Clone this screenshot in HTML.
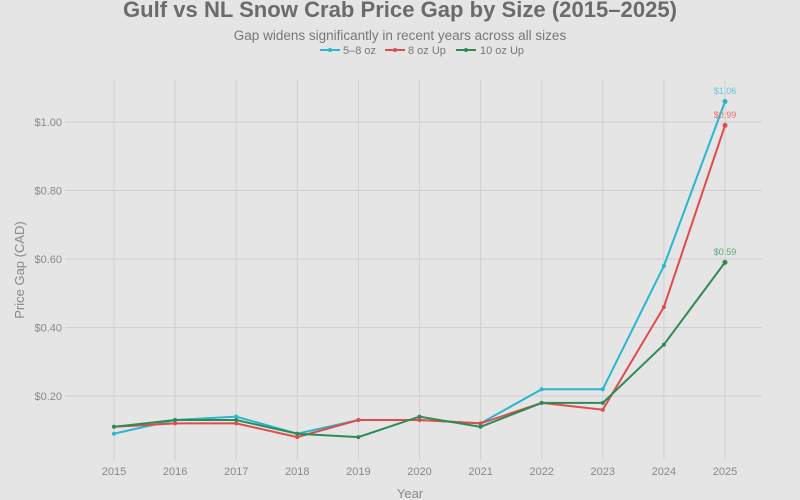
<!DOCTYPE html>
<html><head><meta charset="utf-8"><style>
body{margin:0;background:#e5e5e5;}
svg{display:block;font-family:"Liberation Sans",sans-serif;}
</style></head><body>
<svg width="800" height="500" viewBox="0 0 800 500">
<rect width="800" height="500" fill="#e5e5e5"/>
<text x="400" y="17" text-anchor="middle" font-size="22" font-weight="bold" fill="#6b6b6b" textLength="554" lengthAdjust="spacingAndGlyphs">Gulf vs NL Snow Crab Price Gap by Size (2015–2025)</text>
<text x="400" y="40" text-anchor="middle" font-size="13.5" fill="#777">Gap widens significantly in recent years across all sizes</text>
<g font-size="11" fill="#777">
<line x1="320" y1="50" x2="340" y2="50" stroke="#29b6d0" stroke-width="2"/><circle cx="330" cy="50" r="2" fill="#29b6d0"/><text x="343" y="54">5–8 oz</text>
<line x1="385" y1="50" x2="405" y2="50" stroke="#e04b4b" stroke-width="2"/><circle cx="395" cy="50" r="2" fill="#e04b4b"/><text x="408" y="54">8 oz Up</text>
<line x1="456" y1="50" x2="476" y2="50" stroke="#2e8b57" stroke-width="2"/><circle cx="466" cy="50" r="2" fill="#2e8b57"/><text x="480" y="54">10 oz Up</text>
</g>
<g stroke="#d0d0d0" stroke-width="1">
<line x1="65" x2="762" y1="396" y2="396"/><line x1="65" x2="762" y1="327.5" y2="327.5"/><line x1="65" x2="762" y1="259" y2="259"/><line x1="65" x2="762" y1="190.5" y2="190.5"/><line x1="65" x2="762" y1="122" y2="122"/>
<line x1="114" x2="114" y1="80" y2="460"/><line x1="175.1" x2="175.1" y1="80" y2="460"/><line x1="236.2" x2="236.2" y1="80" y2="460"/><line x1="297.3" x2="297.3" y1="80" y2="460"/><line x1="358.4" x2="358.4" y1="80" y2="460"/><line x1="419.5" x2="419.5" y1="80" y2="460"/><line x1="480.6" x2="480.6" y1="80" y2="460"/><line x1="541.7" x2="541.7" y1="80" y2="460"/><line x1="602.8" x2="602.8" y1="80" y2="460"/><line x1="663.9" x2="663.9" y1="80" y2="460"/><line x1="725" x2="725" y1="80" y2="460"/>
</g>
<g font-size="11" fill="#888" text-anchor="end">
<text x="62" y="400">$0.20</text><text x="62" y="331.5">$0.40</text><text x="62" y="263">$0.60</text><text x="62" y="194.5">$0.80</text><text x="62" y="126">$1.00</text>
</g>
<g font-size="11" fill="#888" text-anchor="middle">
<text x="114" y="475">2015</text><text x="175.1" y="475">2016</text><text x="236.2" y="475">2017</text><text x="297.3" y="475">2018</text><text x="358.4" y="475">2019</text><text x="419.5" y="475">2020</text><text x="480.6" y="475">2021</text><text x="541.7" y="475">2022</text><text x="602.8" y="475">2023</text><text x="663.9" y="475">2024</text><text x="725" y="475">2025</text>
<text x="410" y="498" font-size="13">Year</text>
<text transform="translate(24,270) rotate(-90)" font-size="13">Price Gap (CAD)</text>
</g>
<g fill="none" stroke-width="2">
<polyline stroke="#29b6d0" points="114,433.7 175.1,420 236.2,416.6 297.3,433.7 358.4,420 419.5,420 480.6,423.4 541.7,389.2 602.8,389.2 663.9,265.9 725,101.5"/>
<polyline stroke="#e04b4b" points="114,426.8 175.1,423.4 236.2,423.4 297.3,437.1 358.4,420 419.5,420 480.6,423.4 541.7,402.9 602.8,409.7 663.9,307 725,125.4"/>
<polyline stroke="#2e8b57" points="114,426.8 175.1,420 236.2,420 297.3,433.7 358.4,437.1 419.5,416.6 480.6,426.8 541.7,402.9 602.8,402.9 663.9,344.6 725,262.4"/>
</g>
<g fill="#29b6d0"><circle cx="114" cy="433.7" r="2"/><circle cx="175.1" cy="420" r="2"/><circle cx="236.2" cy="416.6" r="2"/><circle cx="297.3" cy="433.7" r="2"/><circle cx="358.4" cy="420" r="2"/><circle cx="419.5" cy="420" r="2"/><circle cx="480.6" cy="423.4" r="2"/><circle cx="541.7" cy="389.2" r="2"/><circle cx="602.8" cy="389.2" r="2"/><circle cx="663.9" cy="265.9" r="2"/><circle cx="725" cy="101.5" r="2.5"/></g>
<g fill="#e04b4b"><circle cx="114" cy="426.8" r="2"/><circle cx="175.1" cy="423.4" r="2"/><circle cx="236.2" cy="423.4" r="2"/><circle cx="297.3" cy="437.1" r="2"/><circle cx="358.4" cy="420" r="2"/><circle cx="419.5" cy="420" r="2"/><circle cx="480.6" cy="423.4" r="2"/><circle cx="541.7" cy="402.9" r="2"/><circle cx="602.8" cy="409.7" r="2"/><circle cx="663.9" cy="307" r="2"/><circle cx="725" cy="125.4" r="2.5"/></g>
<g fill="#2e8b57"><circle cx="114" cy="426.8" r="2"/><circle cx="175.1" cy="420" r="2"/><circle cx="236.2" cy="420" r="2"/><circle cx="297.3" cy="433.7" r="2"/><circle cx="358.4" cy="437.1" r="2"/><circle cx="419.5" cy="416.6" r="2"/><circle cx="480.6" cy="426.8" r="2"/><circle cx="541.7" cy="402.9" r="2"/><circle cx="602.8" cy="402.9" r="2"/><circle cx="663.9" cy="344.6" r="2"/><circle cx="725" cy="262.4" r="2.5"/></g>
<g font-size="9" text-anchor="middle">
<text x="725" y="94" fill="#5cc8dc">$1.06</text>
<text x="725" y="118" fill="#e87070">$0.99</text>
<text x="725" y="255" fill="#5aa57a">$0.59</text>
</g>
</svg>
</body></html>
